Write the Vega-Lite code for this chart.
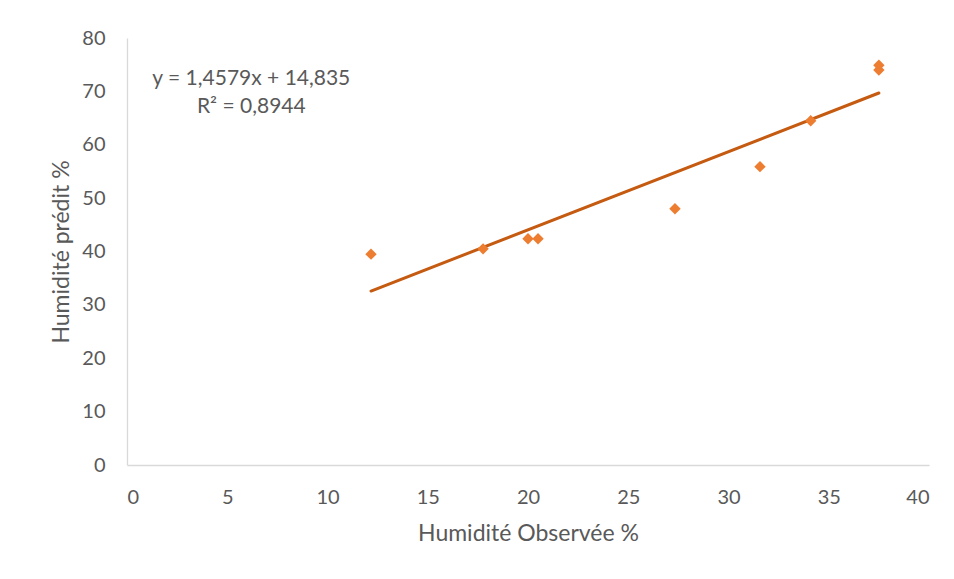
{
  "$schema": "https://vega.github.io/schema/vega-lite/v6.json",
  "width": 802,
  "height": 427,
  "autosize": "none",
  "padding": {"left": 127, "top": 38, "right": 25, "bottom": 114},
  "background": "white",
  "config": {
    "view": {"stroke": null},
    "font": "Lato",
    "axis": {
      "grid": false,
      "ticks": false,
      "domainColor": "#d9d9d9",
      "domainWidth": 1.3,
      "labelColor": "#595959",
      "titleColor": "#595959",
      "labelFont": "Lato",
      "titleFont": "Lato",
      "labelFontSize": 20,
      "titleFontSize": 23,
      "titleFontWeight": "normal"
    }
  },
  "datasets": {
    "points": [
      {"obs": 12.17, "pred": 39.5},
      {"obs": 17.76, "pred": 40.5},
      {"obs": 20.0, "pred": 42.4},
      {"obs": 20.5, "pred": 42.4},
      {"obs": 27.33, "pred": 48.0},
      {"obs": 31.57, "pred": 55.9},
      {"obs": 34.1, "pred": 64.5},
      {"obs": 37.5, "pred": 74.9},
      {"obs": 37.5, "pred": 74.0}
    ],
    "equation": [
      {"label": "y = 1,4579x + 14,835 / R² = 0,8944"}
    ]
  },
  "layer": [
    {
      "data": {"name": "points"},
      "transform": [{"regression": "pred", "on": "obs"}],
      "mark": {"type": "line", "color": "#C55A11", "strokeWidth": 3, "strokeCap": "round"},
      "encoding": {
        "x": {"field": "obs", "type": "quantitative"},
        "y": {"field": "pred", "type": "quantitative"}
      }
    },
    {
      "data": {"name": "points"},
      "mark": {"type": "point", "shape": "diamond", "filled": true, "color": "#ED7D31", "opacity": 1, "size": 130},
      "encoding": {
        "x": {
          "field": "obs", "type": "quantitative",
          "scale": {"domain": [0, 40], "nice": false, "zero": true},
          "axis": {"values": [0, 5, 10, 15, 20, 25, 30, 35, 40], "labelPadding": 22, "title": "Humidité Observée %", "titlePadding": 15}
        },
        "y": {
          "field": "pred", "type": "quantitative",
          "scale": {"domain": [0, 80], "nice": false},
          "axis": {"values": [0, 10, 20, 30, 40, 50, 60, 70, 80], "labelPadding": 22, "title": "Humidité prédit %", "titlePadding": 8}
        }
      }
    },
    {
      "data": {"name": "equation"},
      "mark": {"type": "text", "align": "center", "baseline": "middle", "fontSize": 21, "fontWeight": "normal", "color": "#595959", "lineHeight": 28, "font": "Lato", "lineBreak": " / "},
      "encoding": {
        "x": {"datum": 6.2},
        "y": {"datum": 72.4},
        "text": {"field": "label"}
      }
    }
  ]
}
